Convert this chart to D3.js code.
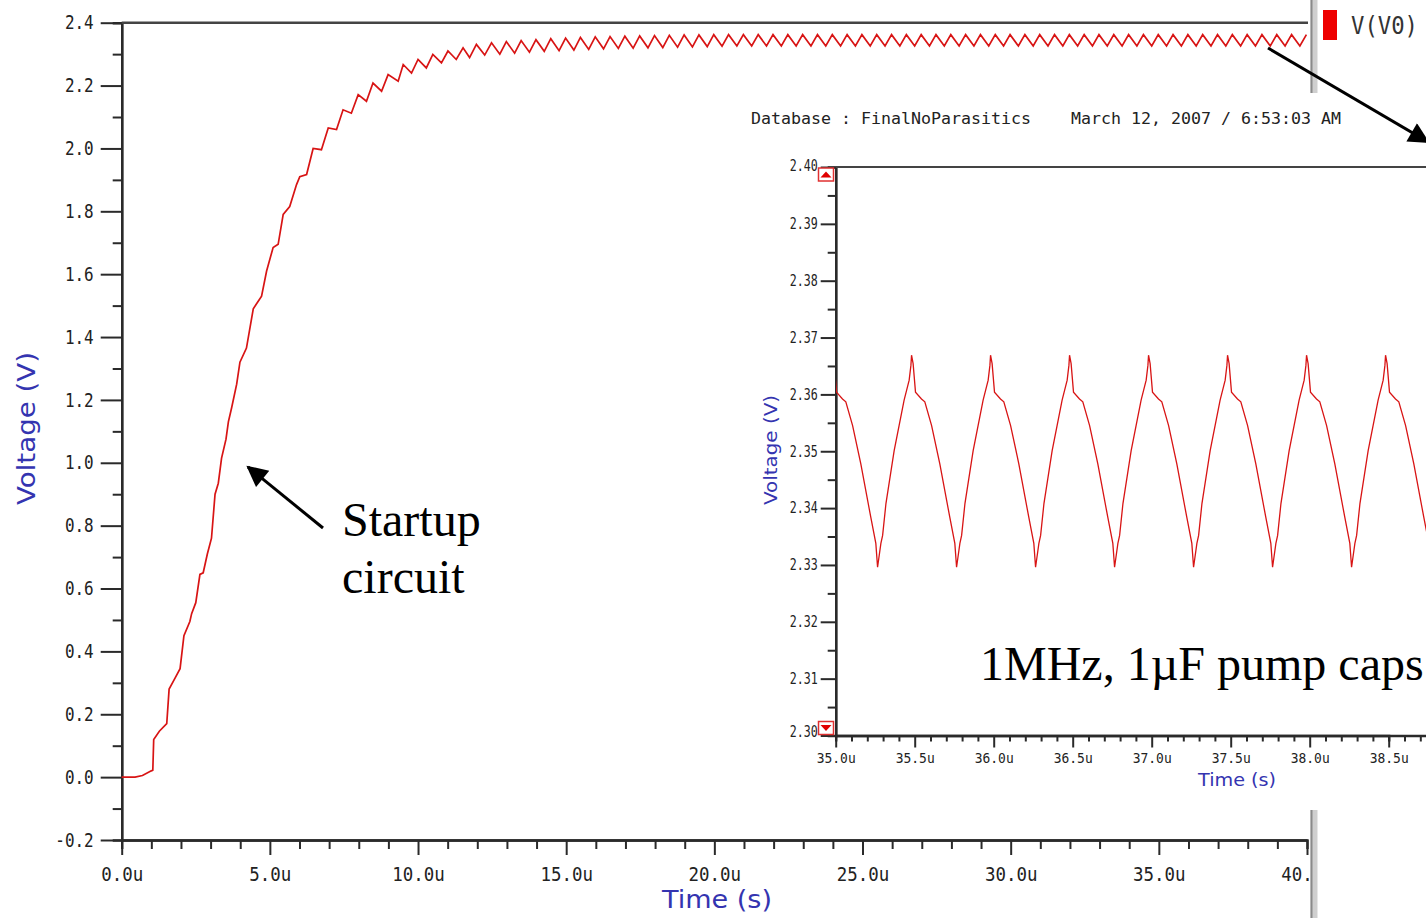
<!DOCTYPE html>
<html>
<head>
<meta charset="utf-8">
<script src="https://cdn.jsdelivr.net/npm/d3@7"></script>
<style>
  html, body { margin: 0; padding: 0; background: #fff; }
  svg { display: block; }
  .tick text { font-family: "DejaVu Sans Mono", monospace; fill: #222; }
  .axis-title { font-family: "DejaVu Sans", sans-serif; fill: #3434b0; }
  .note { font-family: "Liberation Serif", "Times New Roman", serif; fill: #000; }
</style>
</head>
<body>
<script>
// ---------------- data (time in us, voltage in V) ----------------

// main plot ticks
const mainXTicks = [0, 5, 10, 15, 20, 25, 30, 35, 40];
const mainYTicks = [-0.2, 0.0, 0.2, 0.4, 0.6, 0.8, 1.0, 1.2, 1.4, 1.6, 1.8, 2.0, 2.2, 2.4];

// start-up staircase
const startupPts = [
  [0, 0], [0.45, 0], [0.7, 0.005], [1.0, 0.02], [1.05, 0.022], [1.08, 0.12], [1.27, 0.146],
  [1.52, 0.17], [1.6, 0.28], [1.8, 0.315], [1.97, 0.345], [2.1, 0.45], [2.3, 0.495],
  [2.36, 0.52], [2.5, 0.555], [2.64, 0.645], [2.75, 0.65], [2.89, 0.71], [3.03, 0.76],
  [3.15, 0.9], [3.26, 0.935], [3.37, 1.015], [3.52, 1.075], [3.6, 1.13], [3.71, 1.175],
  [3.88, 1.25], [3.99, 1.32], [4.21, 1.365], [4.44, 1.49], [4.72, 1.53], [4.89, 1.61],
  [5.11, 1.685], [5.28, 1.695], [5.45, 1.79], [5.67, 1.815], [5.9, 1.885], [6.01, 1.91],
  [6.24, 1.917], [6.46, 2.0], [6.74, 1.996], [6.97, 2.065], [7.25, 2.06], [7.47, 2.123],
  [7.75, 2.112], [7.98, 2.171], [8.26, 2.15], [8.48, 2.208], [8.77, 2.182], [8.99, 2.235],
  [9.33, 2.214], [9.5, 2.267], [9.78, 2.24], [10.0, 2.283], [10.28, 2.256], [10.5, 2.299],
  [10.79, 2.272], [11.01, 2.31], [11.29, 2.283], [11.52, 2.32], [11.74, 2.289],
  [11.97, 2.331], [12.25, 2.297]
];

// pump ripple after start-up: one peak every clock half period, trough 0.28us later
const ripplePeakStart = 12.48;
const rippleStep = 0.5;
const troughLag = 0.28;
const ripplePeakV = [
  2.336, 2.340, 2.343, 2.346, 2.349, 2.351, 2.353, 2.355, 2.356, 2.357, 2.358, 2.359, 2.360, 2.361, 2.361,
  2.362, 2.362, 2.362, 2.362, 2.362, 2.362, 2.362, 2.362, 2.362, 2.362, 2.362, 2.362, 2.362, 2.362,
  2.362, 2.362, 2.362, 2.362, 2.362, 2.362, 2.362, 2.362, 2.362, 2.362, 2.362, 2.362, 2.362, 2.362,
  2.362, 2.362, 2.362, 2.362, 2.362, 2.362, 2.362, 2.362, 2.362, 2.362, 2.362, 2.362, 2.362
];
const rippleTroughV = [
  2.300, 2.303, 2.306, 2.309, 2.311, 2.313, 2.315, 2.317, 2.318, 2.319, 2.320, 2.321, 2.322, 2.323, 2.324, 2.325,
  2.326, 2.326, 2.326, 2.326, 2.326, 2.326, 2.326, 2.326, 2.326, 2.326, 2.326, 2.326, 2.326,
  2.326, 2.326, 2.326, 2.326, 2.326, 2.326, 2.326, 2.326, 2.326, 2.326, 2.326, 2.326, 2.326,
  2.326, 2.326, 2.326, 2.326, 2.326, 2.326, 2.326, 2.326, 2.326, 2.326, 2.326, 2.326, 2.326
];

// zoomed inset
const insetXTicks = [35.0, 35.5, 36.0, 36.5, 37.0, 37.5, 38.0, 38.5];
const insetYTicks = [2.30, 2.31, 2.32, 2.33, 2.34, 2.35, 2.36, 2.37, 2.38, 2.39, 2.40];
const insetPeakT = [34.98, 35.48, 35.98, 36.48, 36.98, 37.48, 37.98, 38.48, 38.98];
// one ripple cycle: [time after peak, voltage]
const insetCycle = [
  [0, 2.3669], [0.010, 2.3654], [0.025, 2.3604], [0.063, 2.3592], [0.084, 2.3587],
  [0.127, 2.3545], [0.179, 2.3478], [0.242, 2.3384], [0.274, 2.3338], [0.285, 2.3296],
  [0.306, 2.3338], [0.317, 2.3352], [0.338, 2.3408], [0.390, 2.3501], [0.453, 2.3590],
  [0.485, 2.3625], [0.496, 2.3651]
];

const headerText = "Database : FinalNoParasitics    March 12, 2007 / 6:53:03 AM";
const legendLabel = "V(V0)";

// ---------------- drawing ----------------
const W = 1426, H = 918;
const red = "#d81414", axisCol = "#2a2a2a";

const svg = d3.select("body").append("svg")
    .attr("width", W).attr("height", H);

svg.append("rect").attr("width", W).attr("height", H).attr("fill", "#fff");

const defs = svg.append("defs");
defs.append("clipPath").attr("id", "mainClip")
    .append("rect").attr("x", 0).attr("y", 0).attr("width", 1309).attr("height", H);
defs.append("clipPath").attr("id", "insetClip")
    .append("rect").attr("x", 836).attr("y", 150).attr("width", 600).attr("height", 600);
defs.append("marker").attr("id", "head")
    .attr("viewBox", "0 0 10 10").attr("refX", 9).attr("refY", 5)
    .attr("markerWidth", 8).attr("markerHeight", 7).attr("markerUnits", "strokeWidth")
    .attr("orient", "auto")
  .append("path").attr("d", "M0,0L10,5L0,10Z").attr("fill", "#000");

// main scales
const x = d3.scaleLinear().domain([0, 40]).range([121.7, 1307]);
const y = d3.scaleLinear().domain([-0.2, 2.4]).range([840, 22.7]);

const main = svg.append("g").attr("clip-path", "url(#mainClip)");

// styles the ticks the way the waveform viewer draws them
function styleAxis(g, fontSize, charW) {
  g.select(".domain").attr("stroke", axisCol).attr("stroke-width", 2.4);
  g.selectAll(".tick line").attr("stroke", axisCol).attr("stroke-width", 2);
  g.selectAll(".tick text")
      .style("font-size", fontSize + "px")
      .attr("textLength", function() { return this.textContent.length * charW; })
      .attr("lengthAdjust", "spacingAndGlyphs");
}

// minor ticks first so the major ones sit on top
main.append("g")
    .attr("transform", "translate(121.7,0)")
    .call(d3.axisLeft(y).tickValues(d3.range(-0.1, 2.4, 0.2)).tickSize(9).tickFormat(""))
    .call(g => styleAxis(g, 19, 9.6));
main.append("g")
    .attr("transform", "translate(0,840)")
    .call(d3.axisBottom(x).tickValues(d3.range(0, 41, 1).filter(d => d % 5)).tickSize(9).tickFormat(""))
    .call(g => styleAxis(g, 19, 10.5));

main.append("g")
    .attr("transform", "translate(121.7,0)")
    .call(d3.axisLeft(y).tickValues(mainYTicks).tickSize(21).tickPadding(7).tickSizeOuter(0)
        .tickFormat(d => d.toFixed(1)))
    .call(g => styleAxis(g, 19, 9.6));
main.append("g")
    .attr("transform", "translate(0,840)")
    .call(d3.axisBottom(x).tickValues(mainXTicks).tickSize(15).tickPadding(13).tickSizeOuter(0)
        .tickFormat(d => d.toFixed(1) + "u"))
    .call(g => styleAxis(g, 19, 10.5));

// top frame
main.append("line")
    .attr("x1", x(0)).attr("x2", 1308).attr("y1", y(2.4)).attr("y2", y(2.4))
    .attr("stroke", "#444").attr("stroke-width", 2.4);

// trace
const mainPts = startupPts.map(d => ({t: d[0], v: d[1]}));
ripplePeakV.forEach((v, i) => {
  const tp = ripplePeakStart + i * rippleStep;
  mainPts.push({t: tp, v: v});
  if (i < rippleTroughV.length) mainPts.push({t: tp + troughLag, v: rippleTroughV[i]});
});
main.append("path")
    .datum(mainPts)
    .attr("fill", "none").attr("stroke", red).attr("stroke-width", 1.7)
    .attr("d", d3.line().x(d => x(d.t)).y(d => y(d.v)));

// axis titles
svg.append("text").attr("class", "axis-title")
    .attr("transform", "translate(35,428.5) rotate(-90)")
    .attr("text-anchor", "middle").style("font-size", "24px")
    .attr("textLength", 153).attr("lengthAdjust", "spacingAndGlyphs")
    .text("Voltage (V)");
svg.append("text").attr("class", "axis-title")
    .attr("x", 717).attr("y", 908)
    .attr("text-anchor", "middle").style("font-size", "24px")
    .attr("textLength", 110).attr("lengthAdjust", "spacingAndGlyphs")
    .text("Time (s)");

// window divider on the right
svg.append("rect").attr("x", 1310.5).attr("y", 0).attr("width", 7).attr("height", H).attr("fill", "#cfcfcf");
svg.append("line").attr("x1", 1311.5).attr("x2", 1311.5).attr("y1", 0).attr("y2", H)
    .attr("stroke", "#8a8a8a").attr("stroke-width", 2);

// legend
svg.append("rect").attr("x", 1323).attr("y", 10).attr("width", 14).attr("height", 30).attr("fill", "#ee0000");
svg.append("text")
    .attr("x", 1351).attr("y", 34)
    .style("font-family", "'DejaVu Sans Mono', monospace").style("font-size", "24px").attr("fill", "#333")
    .attr("textLength", 67).attr("lengthAdjust", "spacingAndGlyphs")
    .text(legendLabel);

// ---------------- inset ----------------
svg.append("rect").attr("x", 740).attr("y", 93).attr("width", 700).attr("height", 717).attr("fill", "#fff");

svg.append("text")
    .attr("x", 751).attr("y", 124)
    .style("font-family", "'DejaVu Sans Mono', monospace").style("font-size", "15px")
    .style("white-space", "pre").attr("fill", "#222")
    .attr("textLength", 590).attr("lengthAdjust", "spacingAndGlyphs")
    .text(headerText);

const xi = d3.scaleLinear().domain([35, 38.5]).range([835.7, 1388.7]);
const yi = d3.scaleLinear().domain([2.30, 2.40]).range([735.5, 167]);

const inset = svg.append("g");

inset.append("g")
    .attr("transform", "translate(835.7,0)")
    .call(d3.axisLeft(yi).tickValues(d3.range(2.305, 2.40, 0.01)).tickSize(8).tickFormat(""))
    .call(g => styleAxis(g, 15, 7));
inset.append("g")
    .attr("transform", "translate(0,735.5)")
    .call(d3.axisBottom(xi).tickValues(d3.range(35.1, 38.75, 0.1).filter(d => Math.abs(d * 2 - Math.round(d * 2)) > 0.01))
        .tickSize(6).tickFormat(""))
    .call(g => styleAxis(g, 14, 7.8));

inset.append("g")
    .attr("transform", "translate(835.7,0)")
    .call(d3.axisLeft(yi).tickValues(insetYTicks).tickSize(15).tickPadding(3).tickSizeOuter(0)
        .tickFormat(d => d.toFixed(2)))
    .call(g => styleAxis(g, 15, 7))
    .call(g => g.selectAll(".tick text")
        .attr("dy", d => d === 2.40 ? "0.2em" : d === 2.30 ? "0.05em" : "0.32em"));
inset.append("g")
    .attr("transform", "translate(0,735.5)")
    .call(d3.axisBottom(xi).tickValues(insetXTicks).tickSize(12).tickPadding(6).tickSizeOuter(0)
        .tickFormat(d => d.toFixed(1) + "u"))
    .call(g => styleAxis(g, 14, 7.8))
    .call(g => g.select(".domain").attr("d", "M835.7,0.5H1440"));

inset.append("line")
    .attr("x1", 835.7).attr("x2", 1440).attr("y1", yi(2.40)).attr("y2", yi(2.40))
    .attr("stroke", "#444").attr("stroke-width", 2);

// range markers at the ends of the y axis
[[2.40, 1], [2.30, -1]].forEach(([v, dir]) => {
  const top = dir > 0 ? yi(v) + 1 : yi(v) - 14;
  inset.append("rect")
      .attr("x", 818.5).attr("y", top).attr("width", 15).attr("height", 13)
      .attr("fill", "#fff").attr("stroke", "#e03030").attr("stroke-width", 1.5);
  const cy = top + 6.5;
  inset.append("path")
      .attr("d", dir > 0
        ? `M820.5,${cy + 3}L831.5,${cy + 3}L826,${cy - 3}Z`
        : `M820.5,${cy - 3}L831.5,${cy - 3}L826,${cy + 3}Z`)
      .attr("fill", "#e00000");
});

const insetPts = [];
insetPeakT.forEach(tp => insetCycle.forEach(c => insetPts.push({t: tp + c[0], v: c[1]})));
inset.append("path")
    .datum(insetPts)
    .attr("clip-path", "url(#insetClip)")
    .attr("fill", "none").attr("stroke", red).attr("stroke-width", 1.3)
    .attr("d", d3.line().x(d => xi(d.t)).y(d => yi(d.v)));

inset.append("text").attr("class", "axis-title")
    .attr("transform", "translate(777,450) rotate(-90)")
    .attr("text-anchor", "middle").style("font-size", "17px")
    .attr("textLength", 110).attr("lengthAdjust", "spacingAndGlyphs")
    .text("Voltage (V)");
inset.append("text").attr("class", "axis-title")
    .attr("x", 1237).attr("y", 786)
    .attr("text-anchor", "middle").style("font-size", "18px")
    .attr("textLength", 78).attr("lengthAdjust", "spacingAndGlyphs")
    .text("Time (s)");

// ---------------- annotations ----------------
svg.append("line")
    .attr("x1", 323).attr("y1", 528).attr("x2", 248).attr("y2", 467)
    .attr("stroke", "#000").attr("stroke-width", 3).attr("marker-end", "url(#head)");
svg.append("line")
    .attr("x1", 1268).attr("y1", 48).attr("x2", 1428).attr("y2", 142)
    .attr("stroke", "#000").attr("stroke-width", 3).attr("marker-end", "url(#head)");

svg.append("text").attr("class", "note")
    .attr("x", 342).attr("y", 536).style("font-size", "48px").text("Startup");
svg.append("text").attr("class", "note")
    .attr("x", 342).attr("y", 593).style("font-size", "48px").text("circuit");
svg.append("text").attr("class", "note")
    .attr("x", 980).attr("y", 680).style("font-size", "48px").text("1MHz, 1\u00b5F pump caps");
</script>
</body>
</html>
